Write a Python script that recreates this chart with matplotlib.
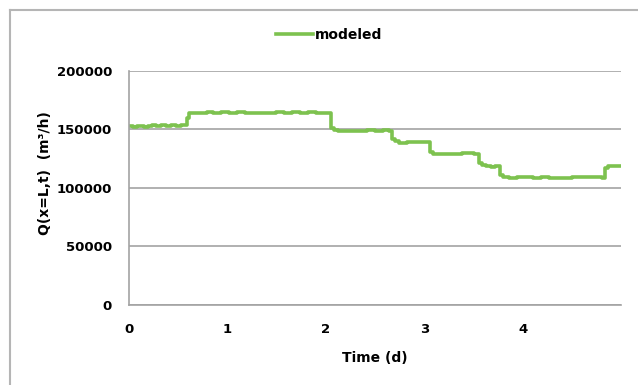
import matplotlib.pyplot as plt
from matplotlib.lines import Line2D

plt.rcParams["font.family"] = ["DejaVu Sans"]
plt.rcParams["font.weight"] = "bold"

# 读图得到的阶梯流量 (时间 d, 流量 m3/h)
time_d = [
    0.00, 0.04, 0.08, 0.12, 0.16, 0.20, 0.24, 0.28, 0.33, 0.38, 0.43, 0.48, 0.53, 0.57,
    0.59, 0.61, 0.66, 0.74, 0.80, 0.86, 0.94, 1.02, 1.10, 1.18, 1.26, 1.34, 1.42, 1.50,
    1.58, 1.66, 1.74, 1.82, 1.90, 1.98, 2.03,
    2.05, 2.08, 2.12, 2.18, 2.26, 2.34, 2.42, 2.50, 2.58, 2.64,
    2.67, 2.70, 2.74, 2.82, 2.90, 2.98, 3.03,
    3.06, 3.09, 3.14, 3.22, 3.30, 3.38, 3.44, 3.50, 3.53,
    3.55, 3.58, 3.63, 3.68, 3.72, 3.75,
    3.77, 3.80, 3.86, 3.94, 4.02, 4.10, 4.18, 4.26, 4.34, 4.42, 4.50, 4.58, 4.66, 4.74, 4.80,
    4.83, 4.86, 4.92, 5.00,
]
flow = [
    153000, 152400, 153300, 152600, 152000, 153100, 153700, 152900, 153900, 153300, 153800, 153400, 154000, 153600,
    160000, 163800, 164500, 164200, 165200, 164300, 164800, 164100, 164600, 164000, 164500, 163900, 164400, 165000,
    164300, 164700, 164200, 164600, 164000, 164400, 163800,
    151500, 149600, 148900, 148300, 149100, 148700, 149200, 148900, 149400, 149000,
    142000, 139800, 138800, 139300, 138900, 139400, 139100,
    131000, 129300, 128800, 129200, 128900, 129600, 130000, 129400, 128800,
    121000, 119300, 118800, 118300, 119100, 118700,
    111000, 109300, 108900, 109600, 109100, 108800, 109300, 108900, 108600, 108900, 109500, 109200, 109700, 109300, 108700,
    117000, 118800, 119100, 118900,
]

y_ticks = [0, 50000, 100000, 150000, 200000]
x_ticks = [0, 1, 2, 3, 4]

fig = plt.figure(figsize=(6.38, 3.85), dpi=100)
ax = fig.add_axes([0.2016, 0.2078, 0.7725, 0.6078])

grid_c = "#a3a3a3"
line, = ax.plot(time_d, flow, drawstyle="steps-post", color="#7dc24f", lw=2.6,
                label="modeled")

ax.set_xlim(0, 5)
ax.set_ylim(0, 200000)
ax.set_xticks(x_ticks)
ax.set_yticks(y_ticks)
ax.set_xticklabels([str(t) for t in x_ticks], fontsize=9.5, fontweight="bold")
ax.set_yticklabels([str(t) for t in y_ticks], fontsize=9.5, fontweight="bold")
ax.tick_params(axis="both", length=0)
ax.tick_params(axis="y", pad=12)
ax.tick_params(axis="x", pad=13)

ax.grid(axis="y", color=grid_c, lw=1.2)
ax.set_axisbelow(True)
for side in ("top", "right"):
    ax.spines[side].set_visible(False)
for side in ("left", "bottom"):
    ax.spines[side].set_color(grid_c)
    ax.spines[side].set_linewidth(1.2)

ax.set_xlabel("Time (d)", fontsize=10, fontweight="bold")
ax.xaxis.set_label_coords(0.5, -0.195)
ax.set_ylabel("Q(x=L,t)  (m³/h)", fontsize=10, fontweight="bold")
ax.yaxis.set_label_coords(-0.155, 0.565)

fig.legend(handles=[line], loc="center", bbox_to_anchor=(0.516, 0.909),
           frameon=False, handlelength=2.6, handletextpad=0.15,
           prop={"size": 10, "weight": "bold"})

# 外框（只露出左边和上边）
bx = 9.5 / 638
by = 1 - 9.5 / 385
border_c = "#b5b5b5"
fig.add_artist(Line2D([bx, bx], [0, by], transform=fig.transFigure,
                      color=border_c, lw=1.5))
fig.add_artist(Line2D([bx, 1], [by, by], transform=fig.transFigure,
                      color=border_c, lw=1.5))

fig.savefig("out.png", dpi=100)
